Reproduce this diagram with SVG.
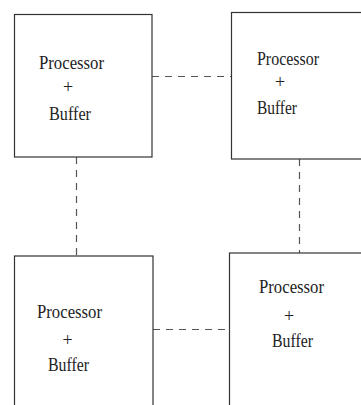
<svg xmlns="http://www.w3.org/2000/svg" width="361" height="405" viewBox="0 0 361 405">
<style>
.box{fill:#fff;stroke:#333;stroke-width:1.2}
.conn{stroke:#555;stroke-width:1.2;stroke-dasharray:7,6;fill:none}
.t{font-family:'Liberation Serif','DejaVu Serif',serif;font-size:18px;fill:#222}
</style>
<rect width="361" height="405" fill="#fff"/>
<g id="connectors">
<line class="conn" x1="152" y1="76.5" x2="231" y2="76.5"/>
<line class="conn" x1="153" y1="329.5" x2="229" y2="329.5"/>
<line class="conn" x1="76.5" y1="157" x2="76.5" y2="256"/>
<line class="conn" x1="299.5" y1="159" x2="299.5" y2="253"/>
</g>
<g id="node1">
<rect class="box" x="14.5" y="14.5" width="137.5" height="142.5"/>
<text class="t" x="39" y="69" textLength="65" lengthAdjust="spacingAndGlyphs">Processor</text>
<text class="t" x="68" y="93" text-anchor="middle">+</text>
<text class="t" x="49" y="120" textLength="42" lengthAdjust="spacingAndGlyphs">Buffer</text>
</g>
<g id="node2">
<rect class="box" x="231.5" y="12.5" width="140" height="146.5"/>
<text class="t" x="257" y="65" textLength="62" lengthAdjust="spacingAndGlyphs">Processor</text>
<text class="t" x="280" y="88" text-anchor="middle">+</text>
<text class="t" x="257" y="114" textLength="40" lengthAdjust="spacingAndGlyphs">Buffer</text>
</g>
<g id="node3">
<rect class="box" x="14.5" y="256" width="138.5" height="160"/>
<text class="t" x="37" y="318" textLength="65" lengthAdjust="spacingAndGlyphs">Processor</text>
<text class="t" x="67.5" y="346" text-anchor="middle">+</text>
<text class="t" x="48" y="371" textLength="41" lengthAdjust="spacingAndGlyphs">Buffer</text>
</g>
<g id="node4">
<rect class="box" x="229.5" y="253" width="140" height="163"/>
<text class="t" x="259" y="293" textLength="65" lengthAdjust="spacingAndGlyphs">Processor</text>
<text class="t" x="289" y="322" text-anchor="middle">+</text>
<text class="t" x="272" y="347" textLength="41" lengthAdjust="spacingAndGlyphs">Buffer</text>
</g>
</svg>
